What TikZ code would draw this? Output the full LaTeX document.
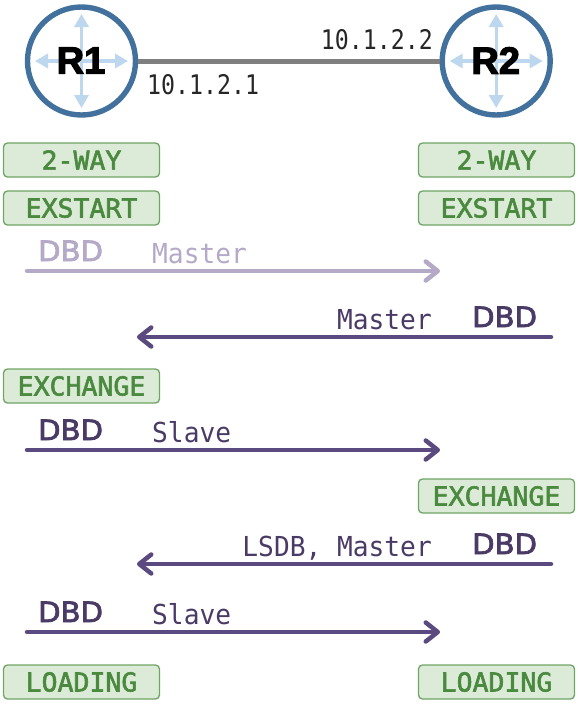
\documentclass[tikz,border=0pt]{standalone}
\usepackage{fontspec}
\setmainfont{Liberation Sans}
\newfontfamily\heavyf[FakeBold=3]{Liberation Sans Bold}
\newfontfamily\addrf[FakeStretch=0.86]{DejaVu Sans Mono}
\newfontfamily\infof[FakeStretch=0.953]{DejaVu Sans Mono}
\newfontfamily\statef[FakeStretch=1.02,FakeBold=2.2]{DejaVu Sans Mono}
\newfontfamily\dbdf[FakeStretch=1.04,FakeBold=2.6]{DejaVu Sans}
\usetikzlibrary{arrows.meta}
\definecolor{ringblue}{HTML}{41719C}
\definecolor{ltblue}{HTML}{BDD7EE}
\definecolor{linkgray}{HTML}{7F7F7F}
\definecolor{gfill}{HTML}{DCEBD7}
\definecolor{gline}{HTML}{6FA565}
\definecolor{gtext}{HTML}{4A8A3F}
\definecolor{purp}{HTML}{5B4A80}
\definecolor{purptext}{HTML}{4A3A66}
\definecolor{pale}{HTML}{B5A9C8}
\tikzset{
  x=1pt,y=-1pt,
  router/.style={circle,draw=ringblue,line width=5.4pt,fill=white,minimum size=108pt,inner sep=0pt},
  rarrow/.style={draw=ltblue,line width=3.4pt,{Triangle[length=13pt,width=14pt]}-{Triangle[length=13pt,width=14pt]}},
  rlabel/.style={inner sep=0pt,font=\heavyf\fontsize{38}{38}\selectfont,text=black},
  addr/.style={inner sep=0pt,font=\addrf\fontsize{27}{28}\selectfont,text=black!85},
  statebox/.style={draw=gline,fill=gfill,line width=1.3pt,rounded corners=4pt,minimum width=156pt,minimum height=34pt,inner sep=0pt,text=gtext,font=\statef\fontsize{26}{27}\selectfont},
  msg/.style={draw=purp,line width=4.5pt,line cap=round,-{Straight Barb[length=12pt,width=19pt,round]}},
  msgpale/.style={msg,draw=pale},
  dbd/.style={inner sep=0pt,font=\dbdf\fontsize{28}{29}\selectfont,text=purptext},
  info/.style={inner sep=0pt,font=\infof\fontsize{27.5}{28}\selectfont,text=purptext},
}
\begin{document}
\begin{tikzpicture}
\useasboundingbox (0,0) rectangle (578,716);
% routers
\node[router] (R1) at (81.5,61) {};
\node[router] (R2) at (496.2,61) {};
\draw[linkgray,line width=5pt] (R1) -- (R2);
\foreach \r/\t in {R1/R1,R2/R2}{
  \coordinate (\r n) at ([yshift=-47pt]\r.center);
  \coordinate (\r s) at ([yshift=47pt]\r.center);
  \coordinate (\r w) at ([xshift=-46.5pt]\r.center);
  \coordinate (\r e) at ([xshift=46.5pt]\r.center);
  \draw[rarrow] (\r n) -- (\r s);
  \draw[rarrow] (\r w) -- (\r e);
  \node[rlabel] (\r t) at ([yshift=0.5pt,xshift=-0.5pt]\r.center) {\t};
}
\node[addr,anchor=base west] (a1) at (147,94) {10.1.2.1};
\node[addr,anchor=base east] (a2) at (433,49) {10.1.2.2};
% state boxes
\node[statebox] (w1) at (81.5,160) {2-WAY};
\node[statebox] (w2) at (496.5,160) {2-WAY};
\node[statebox] (s1) at (81.5,208) {EXSTART};
\node[statebox] (s2) at (496.5,208) {EXSTART};
\node[statebox] (e1) at (81.5,386) {EXCHANGE};
\node[statebox] (e2) at (496.5,496) {EXCHANGE};
\node[statebox] (l1) at (81.5,682) {LOADING};
\node[statebox] (l2) at (496.5,682) {LOADING};
% message end points
\coordinate (m1a) at (27,271);  \coordinate (m1b) at (440,271);
\coordinate (m2a) at (551,337); \coordinate (m2b) at (137,337);
\coordinate (m3a) at (27,450);  \coordinate (m3b) at (440,450);
\coordinate (m4a) at (551,564); \coordinate (m4b) at (137,564);
\coordinate (m5a) at (27,632);  \coordinate (m5b) at (440,632);
\draw[msgpale] (m1a) -- (m1b);
\draw[msg] (m2a) -- (m2b);
\draw[msg] (m3a) -- (m3b);
\draw[msg] (m4a) -- (m4b);
\draw[msg] (m5a) -- (m5b);
% labels
\node[dbd,anchor=base west,text=pale] (d1) at (38,261) {DBD};
\node[info,anchor=base west,text=pale] (t1) at (152,263) {Master};
\node[dbd,anchor=base west] (d2) at (472,327) {DBD};
\node[info,anchor=base east] (t2) at (432,329) {Master};
\node[dbd,anchor=base west] (d3) at (38,440) {DBD};
\node[info,anchor=base west] (t3) at (152,442) {Slave};
\node[dbd,anchor=base west] (d4) at (472,554) {DBD};
\node[info,anchor=base east] (t4) at (432,556) {LSDB, Master};
\node[dbd,anchor=base west] (d5) at (38,622) {DBD};
\node[info,anchor=base west] (t5) at (152,624) {Slave};
\end{tikzpicture}
\end{document}
